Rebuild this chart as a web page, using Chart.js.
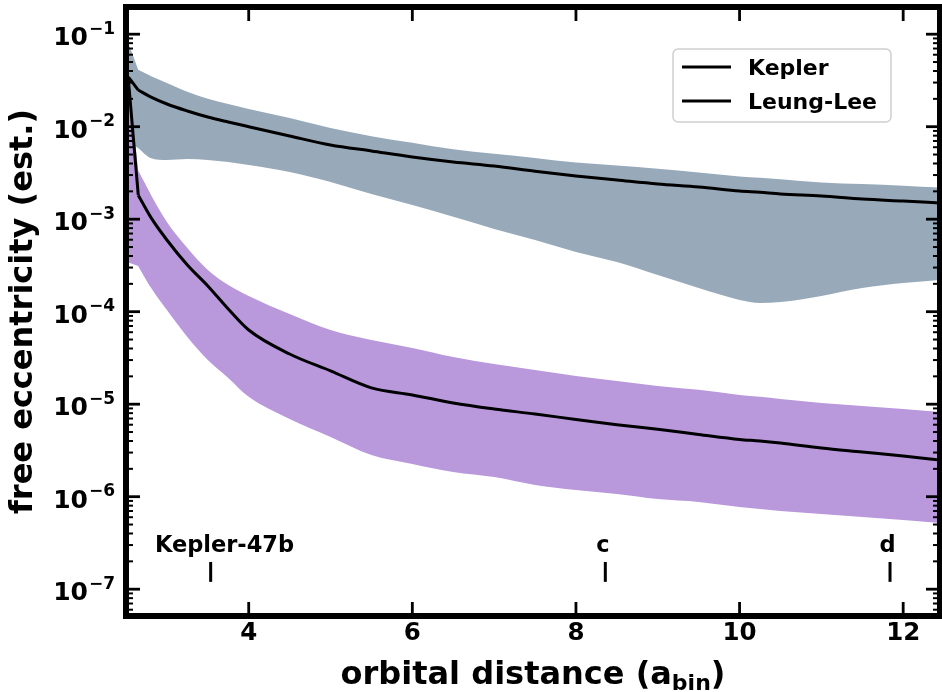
<!DOCTYPE html>
<html>
<head>
<meta charset="utf-8">
<script src="https://cdn.jsdelivr.net/npm/chart.js@4.4.1/dist/chart.umd.min.js"></script>
<style>
html,body{margin:0;padding:0;background:#fff;}
#wrap{width:942px;height:692px;}
canvas{display:block;}
</style>
</head>
<body>
<div id="wrap"><canvas id="c" width="942" height="692"></canvas></div>
<script>
// ---------- data ----------
const distance = [2.53, 2.65, 2.8, 3.0, 3.25, 3.5, 3.75, 4, 4.5, 5, 5.5, 6, 6.5, 7, 7.5, 8, 8.5, 9, 9.5, 10, 10.25, 10.5, 11, 11.5, 12, 12.45];

const keplerUpper = [0.080, 0.0410, 0.0353, 0.0297, 0.0238, 0.0200, 0.0176, 0.0155, 0.0124, 0.0097, 0.0079, 0.0067, 0.0057, 0.0051, 0.0046, 0.0041, 0.0038, 0.0035, 0.0032, 0.0029, 0.0028, 0.0027, 0.0025, 0.0024, 0.0023, 0.0022];
const keplerLower = [0.0067, 0.00589, 0.00459, 0.00437, 0.00448, 0.00437, 0.00415, 0.00385, 0.00324, 0.00252, 0.00187, 0.00142, 0.00106, 0.000785, 0.000596, 0.000443, 0.000344, 0.000249, 0.000180, 0.000134, 0.000124, 0.000127, 0.000148, 0.000180, 0.000204, 0.000220];
const keplerMedian = [0.0344, 0.0249, 0.0210, 0.0176, 0.0148, 0.01274, 0.01125, 0.0100, 0.00794, 0.00634, 0.00546, 0.00470, 0.00415, 0.00376, 0.00330, 0.00293, 0.00265, 0.00240, 0.00223, 0.00202, 0.00195, 0.00187, 0.00178, 0.00165, 0.00157, 0.00150];

const leungUpper = [0.032, 0.00332, 0.00186, 0.000933, 0.000489, 0.000283, 0.000194, 0.000148, 9.44e-5, 6.35e-5, 4.95e-5, 4.06e-5, 3.24e-5, 2.72e-5, 2.34e-5, 2.02e-5, 1.78e-5, 1.57e-5, 1.43e-5, 1.26e-5, 1.20e-5, 1.14e-5, 1.03e-5, 9.58e-6, 8.89e-6, 8.24e-6];
const leungLower = [0.00034, 0.000312, 0.000185, 0.000104, 5.33e-5, 3.01e-5, 1.92e-5, 1.20e-5, 6.92e-6, 4.42e-6, 2.82e-6, 2.26e-6, 1.85e-6, 1.63e-6, 1.34e-6, 1.18e-6, 1.07e-6, 9.44e-7, 8.77e-7, 7.74e-7, 7.36e-7, 7.01e-7, 6.50e-7, 6.04e-7, 5.60e-7, 5.20e-7];
const leungMedian = [0.0315, 0.00182, 0.00106, 0.000596, 0.000320, 0.000190, 0.000107, 6.34e-5, 3.49e-5, 2.29e-5, 1.50e-5, 1.26e-5, 1.03e-5, 8.87e-6, 7.83e-6, 6.84e-6, 6.00e-6, 5.36e-6, 4.71e-6, 4.16e-6, 4.0e-6, 3.80e-6, 3.36e-6, 3.04e-6, 2.75e-6, 2.49e-6];

const seriesNames = ['Kepler', 'Leung-Lee'];
const xTickValues = [4, 6, 8, 10, 12];
const yDecades = [-7, -6, -5, -4, -3, -2, -1];

const planetNames = ['Kepler-47b', 'c', 'd'];
const planetA = [3.535, 8.359, 11.839];
const planetLabelA = [3.704, 8.33, 11.81];

// ---------- styling ----------
const FONT = '"DejaVu Sans", "Liberation Sans", sans-serif';
const GRAY = 'rgb(152,170,186)';
const PURPLE = 'rgb(185,152,220)';

// the steep inner drop is drawn straight, the rest as a smooth curve
const head = (ys, n) => distance.slice(0, n).map((d, i) => ({x: d, y: ys[i]}));
const tail = (ys) => distance.slice(1).map((d, i) => ({x: d, y: ys[i + 1]}));

const band = (label, data, color, fill, order, smooth) => ({
  label, data, fill, order,
  borderWidth: 0, pointRadius: 0, backgroundColor: color, borderColor: color,
  tension: 0, cubicInterpolationMode: smooth ? 'monotone' : 'default'
});
const curve = (label, data, order, smooth) => ({
  label, data, order, fill: false,
  borderColor: '#000', borderWidth: 3, pointRadius: 0, borderJoinStyle: 'round',
  tension: 0, cubicInterpolationMode: smooth ? 'monotone' : 'default'
});

const artPlugin = {
  id: 'art',
  afterDatasetsDraw(chart) {
    const {ctx, scales: {x, y}} = chart;
    ctx.save();
    ctx.strokeStyle = '#000';
    ctx.fillStyle = '#000';
    ctx.lineWidth = 3;
    ctx.font = 'bold 22.5px ' + FONT;
    ctx.textAlign = 'center';
    ctx.textBaseline = 'alphabetic';
    planetNames.forEach((n, i) => {
      const px = x.getPixelForValue(planetA[i]);
      ctx.beginPath();
      ctx.moveTo(px, y.getPixelForValue(1.97e-7));
      ctx.lineTo(px, y.getPixelForValue(1.20e-7));
      ctx.stroke();
      ctx.fillText(n, x.getPixelForValue(planetLabelA[i]), y.getPixelForValue(2.52e-7));
    });
    ctx.restore();
  },
  afterDraw(chart) {
    const {ctx, chartArea: a, scales: {x, y}} = chart;
    ctx.save();
    ctx.strokeStyle = '#000';
    ctx.lineCap = 'butt';
    const seg = (x0, y0, x1, y1) => { ctx.beginPath(); ctx.moveTo(x0, y0); ctx.lineTo(x1, y1); ctx.stroke(); };
    // y ticks (major + minor), inward, left and right
    for (let e = -8; e <= 0; e++) {
      for (let m = 1; m <= 9; m++) {
        const v = m * Math.pow(10, e);
        if (v < y.min || v > y.max) continue;
        const py = y.getPixelForValue(v);
        const major = m === 1;
        ctx.lineWidth = major ? 2.8 : 2;
        const len = major ? 14 : 7;
        seg(a.left, py, a.left + len, py);
        seg(a.right, py, a.right - len, py);
      }
    }
    // x ticks inward, bottom and top
    ctx.lineWidth = 2.8;
    xTickValues.forEach(v => {
      const px = x.getPixelForValue(v);
      seg(px, a.bottom, px, a.bottom - 14);
      seg(px, a.top, px, a.top + 14);
    });
    // spines
    ctx.lineWidth = 6;
    ctx.lineJoin = 'miter';
    ctx.strokeRect(a.left, a.top, a.right - a.left, a.bottom - a.top);

    // y tick labels 10^n
    ctx.fillStyle = '#000';
    ctx.textBaseline = 'alphabetic';
    yDecades.forEach(e => {
      const py = y.getPixelForValue(Math.pow(10, e));
      const expText = '\u2212' + Math.abs(e);
      ctx.font = 'bold 17px ' + FONT;
      const ew = ctx.measureText(expText).width;
      ctx.textAlign = 'right';
      ctx.fillText(expText, 115, py - 0.5);
      ctx.font = 'bold 25px ' + FONT;
      ctx.fillText('10', 115 - ew - 1, py + 11);
    });

    // x axis title with subscript
    const main = 'orbital distance (a';
    const sub = 'bin';
    const close = ')';
    ctx.font = 'bold 32px ' + FONT;
    const w1 = ctx.measureText(main).width;
    const w3 = ctx.measureText(close).width;
    ctx.font = 'bold 22px ' + FONT;
    const w2 = ctx.measureText(sub).width;
    const total = w1 + w2 + w3;
    const sx = (a.left + a.right) / 2 - total / 2;
    const base = 684;
    ctx.textAlign = 'left';
    ctx.font = 'bold 32px ' + FONT;
    ctx.fillText(main, sx, base);
    ctx.font = 'bold 22px ' + FONT;
    ctx.fillText(sub, sx + w1, base + 6);
    ctx.font = 'bold 32px ' + FONT;
    ctx.fillText(close, sx + w1 + w2, base);

    // legend
    const lx = a.right - 267, ly = a.top + 42, lw = 218, lh = 73;
    ctx.beginPath();
    ctx.roundRect(lx, ly, lw, lh, 5);
    ctx.fillStyle = 'rgba(255,255,255,0.8)';
    ctx.fill();
    ctx.lineWidth = 1.5;
    ctx.strokeStyle = '#d0d0d0';
    ctx.stroke();
    ctx.strokeStyle = '#000';
    ctx.fillStyle = '#000';
    ctx.lineWidth = 3;
    ctx.font = 'bold 22px ' + FONT;
    ctx.textAlign = 'left';
    seriesNames.forEach((n, i) => {
      const yy = ly + 18 + i * 34;
      seg(lx + 9, yy, lx + 58, yy);
      ctx.fillText(n, lx + 75, yy + 8);
    });
    ctx.restore();
  }
};

new Chart(document.getElementById('c'), {
  type: 'line',
  data: {
    datasets: [
      band('Kepler upper (inner)', head(keplerUpper, 3), GRAY, '+1', 5, false),
      band('Kepler lower (inner)', head(keplerLower, 3), GRAY, false, 5, false),
      band('Kepler upper', tail(keplerUpper), GRAY, '+1', 4, true),
      band('Kepler lower', tail(keplerLower), GRAY, false, 4, true),
      band('Leung-Lee upper (inner)', head(leungUpper, 3), PURPLE, '+1', 3, false),
      band('Leung-Lee lower (inner)', head(leungLower, 3), PURPLE, false, 3, false),
      band('Leung-Lee upper', tail(leungUpper), PURPLE, '+1', 2, true),
      band('Leung-Lee lower', tail(leungLower), PURPLE, false, 2, true),
      curve(seriesNames[0] + ' (inner)', head(keplerMedian, 2), 1, false),
      curve(seriesNames[0], tail(keplerMedian), 1, true),
      curve(seriesNames[1] + ' (inner)', head(leungMedian, 2), 0, false),
      curve(seriesNames[1], tail(leungMedian), 0, true)
    ]
  },
  options: {
    responsive: false,
    devicePixelRatio: 1,
    animation: false,
    events: [],
    layout: {padding: {top: 7, right: 2, left: 0, bottom: 0}},
    plugins: {legend: {display: false}, tooltip: {enabled: false}},
    scales: {
      x: {
        type: 'linear', min: 2.5, max: 12.45,
        grid: {display: false, drawTicks: false},
        border: {display: false},
        afterBuildTicks: s => { s.ticks = xTickValues.map(v => ({value: v})); },
        afterFit: s => { s.height = 76; },
        ticks: {color: '#000', padding: 3, font: {family: FONT, size: 24.5, weight: 'bold'}, maxRotation: 0}
      },
      y: {
        type: 'logarithmic', min: 5.13e-8, max: 0.1968,
        grid: {display: false, drawTicks: false},
        border: {display: false},
        afterBuildTicks: s => { s.ticks = yDecades.map(e => ({value: Math.pow(10, e), major: true})); },
        afterFit: s => { s.width = 126; },
        ticks: {display: false},
        title: {display: true, text: 'free eccentricity (est.)', color: '#000', padding: {top: 4, bottom: 0}, font: {family: FONT, size: 32, weight: 'bold'}}
      }
    }
  },
  plugins: [artPlugin]
});
</script>
</body>
</html>
